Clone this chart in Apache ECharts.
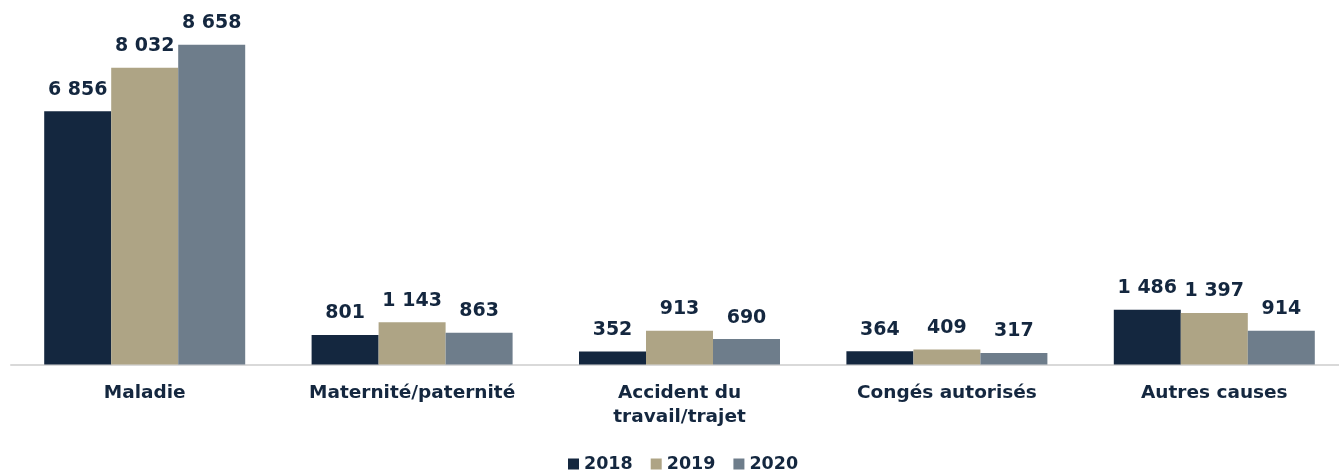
<!DOCTYPE html>
<html><head><meta charset="utf-8">
<script src="https://cdn.jsdelivr.net/npm/echarts@6/dist/echarts.min.js"></script>
<style>html,body{margin:0;padding:0;background:#fff;overflow:hidden}#c{width:1350px;height:471px}</style>
</head><body><div id="c"></div>
<script>
const categories = ['Maladie', 'Maternité/paternité', 'Accident du\ntravail/trajet', 'Congés autorisés', 'Autres causes'];
const years = ['2018', '2019', '2020'];
const v2018 = [6856, 801, 352, 364, 1486];
const v2019 = [8032, 1143, 913, 409, 1397];
const v2020 = [8658, 863, 690, 317, 914];
const colors = ['#14273F', '#AEA485', '#6E7D8B'];
const textColor = '#14273F';
const font = 'DejaVu Sans';
const fmt = p => String(p.value).replace(/\B(?=(\d{3})+(?!\d))/g, ' ');
const chart = echarts.init(document.getElementById('c'), null, {renderer: 'canvas'});
const mk = (name, data, i) => ({
  name, type: 'bar', data, barWidth: 67, barGap: '0%',
  itemStyle: {color: colors[i]},
  label: {show: true, position: 'top', distance: 12, formatter: fmt,
    color: textColor, fontFamily: font, fontWeight: 'bold', fontSize: 19}
});
chart.setOption({
  animation: false,
  grid: {left: 11, width: 1337, top: 32, height: 332.6, containLabel: false},
  legend: {top: 450, left: 563, itemWidth: 11, itemHeight: 11, itemGap: 18,
    icon: 'rect', textStyle: {color: textColor, fontFamily: font, fontWeight: 'bold', fontSize: 17.5},
    data: years},
  xAxis: {type: 'category', data: categories,
    axisLine: {lineStyle: {color: '#D9D9D9', width: 2}}, axisTick: {show: false},
    axisLabel: {color: textColor, fontFamily: font, fontWeight: 'bold', fontSize: 18.5, margin: 17, lineHeight: 24, interval: 0}},
  yAxis: {type: 'value', min: 0, max: 9000, show: false, splitLine: {show: false}},
  series: [mk(years[0], v2018, 0), mk(years[1], v2019, 1), mk(years[2], v2020, 2)]
});
</script></body></html>
